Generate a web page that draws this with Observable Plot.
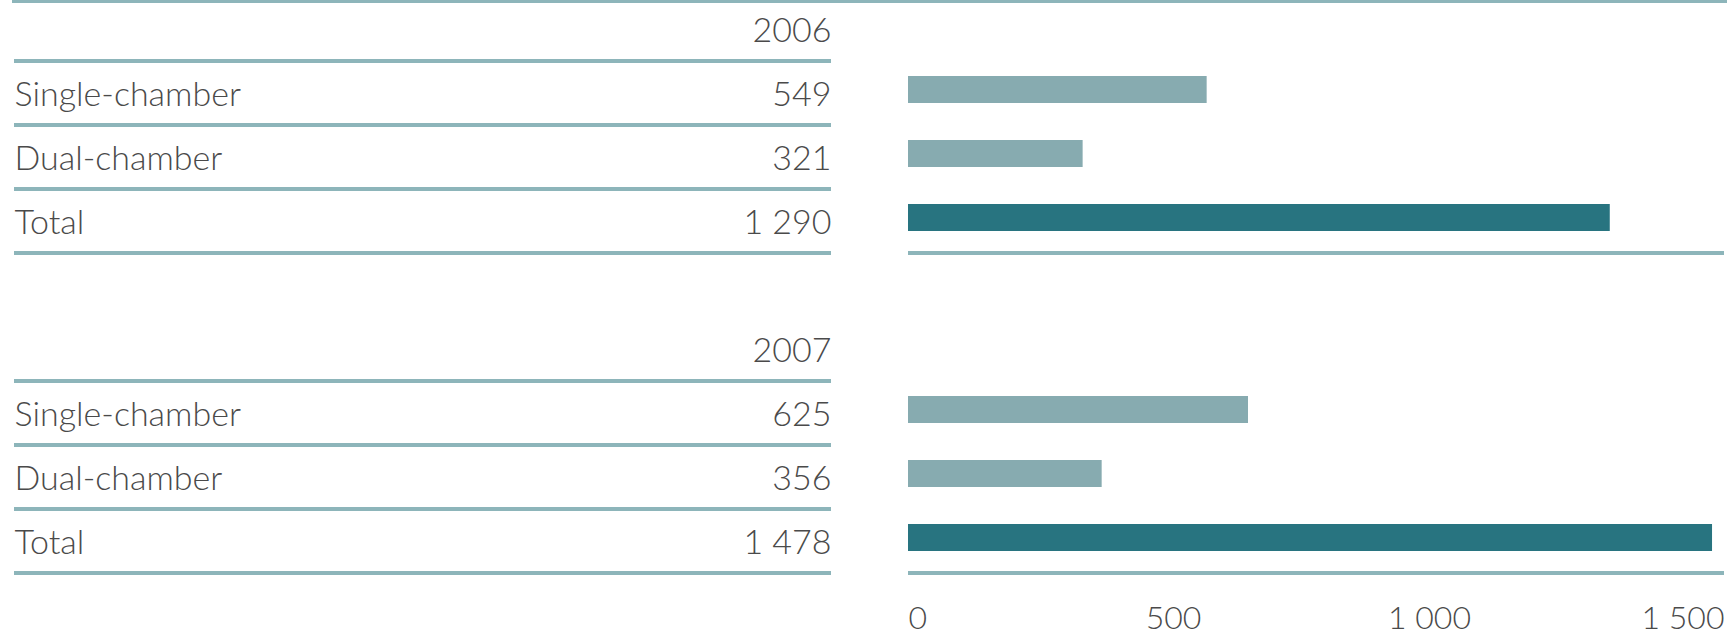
<!DOCTYPE html>
<html><head><meta charset="utf-8">
<script src="https://cdn.jsdelivr.net/npm/d3@7"></script>
<script src="https://cdn.jsdelivr.net/npm/@observablehq/plot@0.6"></script>
<style>
html,body{margin:0;padding:0;background:#fff;}
#chart{display:flex;width:1727px;height:640px;overflow:hidden;}
</style></head><body><div id="chart"></div>
<script>
const years = ["2006", "2007"];
const categories = ["Single-chamber", "Dual-chamber", "Total"];
const values2006 = [549, 321, 1290];
const values2007 = [625, 356, 1478];
const xTicks = [0, 500, 1000, 1500];

const ruleColor = "#8db5ba";
const lightBar = "#87abb0";
const darkBar = "#287480";
const textColor = "#4a4a4a";

const fmt = d3.formatLocale({decimal: ".", thousands: " ", grouping: [3], currency: ["", ""]}).format(",d");

const seriesByYear = [values2006, values2007];
const rows = years.flatMap((yr, i) => categories.map((c, j) => ({year: yr, cat: c, key: yr + "|" + c, value: seriesByYear[i][j]})));
const headers = years.map(yr => ({year: yr, key: yr + "|header"}));
const domain = years.flatMap(yr => [yr + "|header", ...categories.map(c => yr + "|" + c), yr + "|gap"]);

const yScale = {type: "band", domain, range: [-6, 634], paddingInner: 0.578, paddingOuter: 0.289, axis: null};
const style = {fontFamily: "Lato, sans-serif", fontSize: "34px", fontWeight: 300, color: textColor, background: "white", overflow: "visible"};

const left = Plot.plot({
  width: 860, height: 640,
  marginTop: 0, marginBottom: 0, marginLeft: 13, marginRight: 0,
  style,
  x: {domain: [0, 1], range: [14, 831], axis: null},
  y: yScale,
  marks: [
    Plot.frame({anchor: "top", stroke: ruleColor, strokeWidth: 3, insetTop: 1}),
    Plot.ruleY([...headers, ...rows], {y: "key", dy: 35, x1: 0, x2: 1, stroke: ruleColor, strokeWidth: 4}),
    Plot.text(headers, {y: "key", x: 1, text: "year", textAnchor: "end", dy: 5}),
    Plot.text(rows, {y: "key", x: 0, text: "cat", textAnchor: "start", dy: 5}),
    Plot.text(rows, {y: "key", x: 1, text: d => fmt(d.value), textAnchor: "end", dy: 5})
  ]
});

const axisOpts = {anchor: "bottom", tickSize: 0, tickPadding: 0, tickFormat: fmt, label: null, fontSize: 32};
const right = Plot.plot({
  width: 867, height: 640,
  marginTop: 0, marginBottom: 34, marginLeft: 0, marginRight: 0,
  style,
  x: {domain: [0, 1500], range: [48, 864]},
  y: yScale,
  color: {domain: categories, range: [lightBar, lightBar, darkBar]},
  marks: [
    Plot.frame({anchor: "top", stroke: ruleColor, strokeWidth: 3, insetTop: 1}),
    Plot.barX(rows, {x: "value", y: "key", fill: "cat"}),
    Plot.ruleY(rows.filter(d => d.cat === "Total"), {y: "key", dy: 35, x1: 0, x2: 1500, stroke: ruleColor, strokeWidth: 4}),
    Plot.axisX({...axisOpts, ticks: xTicks.slice(0, 1), textAnchor: "start"}),
    Plot.axisX({...axisOpts, ticks: xTicks.slice(1, 2), dx: -7}),
    Plot.axisX({...axisOpts, ticks: xTicks.slice(2, 3), dx: -23}),
    Plot.axisX({...axisOpts, ticks: xTicks.slice(3), textAnchor: "end"})
  ]
});

document.getElementById("chart").append(left, right);
</script>
</body></html>
